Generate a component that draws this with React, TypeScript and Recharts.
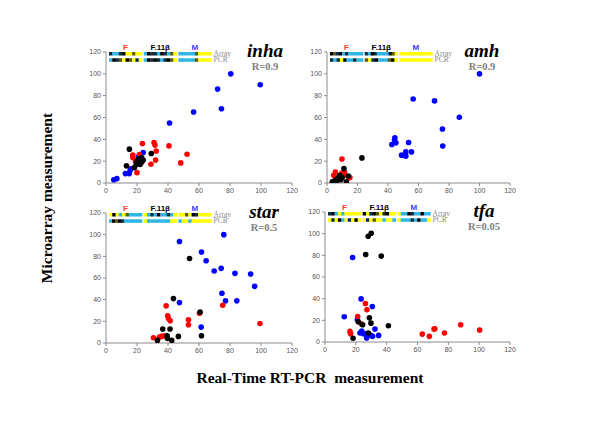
import React from 'react';
import { ScatterChart, Scatter, XAxis, YAxis } from 'recharts';

// ---------- data ----------
type P = { x: number; y: number };
const pts = (a: number[][]): P[] => a.map(([x, y]) => ({ x, y }));

const geneNames = ['inha', 'amh', 'star', 'tfa'];
const rValues = ['R=0.9', 'R=0.9', 'R=0.5', 'R=0.05'];
const groupLabels = ['F', 'F.11\u03b2', 'M'];
const rowLabels = ['Array', 'PCR'];
const axisTicks = [0, 20, 40, 60, 80, 100, 120];

const inhaBlue = pts([[5, 3], [7, 4], [12.5, 8.6], [15, 8.6], [15.6, 11.7], [16, 13], [21, 24], [24, 28], [41, 55], [56.5, 65], [72, 86], [80.5, 100], [74.5, 68], [99.5, 90]]);
const inhaRed = pts([[23.5, 36.2], [31, 37.1], [31.6, 34.7], [40.6, 34], [17.3, 25.5], [17.3, 23.3], [21.6, 26], [32.4, 29.2], [32, 21], [29, 17.2], [20, 9.5], [52.3, 26.4], [48.2, 18.4], [22, 21], [19, 20]]);
const inhaBlack = pts([[15.1, 31], [13.2, 15.7], [18.4, 14.1], [20, 20], [21, 18], [22, 22], [23, 19], [24, 21], [21, 22], [19.5, 17], [23, 23], [22, 17], [29.2, 27]]);

const amhBlue = pts([[100, 100], [56.5, 77], [70.5, 75.2], [86.8, 60.2], [75.7, 49.4], [75.9, 33.8], [42.5, 35.3], [44.5, 41.4], [44.3, 39.3], [45.2, 36.8], [53.5, 37.1], [48.9, 25.5], [51.7, 28.5], [51.7, 24.6], [55.4, 28.5]]);
const amhBlack = pts([[22.9, 23], [11.1, 13.2], [14, 6.4], [12.7, 1], [3.5, 1], [5, 2], [6, 3], [7, 4], [8, 6], [8.5, 7], [10, 5], [6, 1], [9, 3]]);
const amhRed = pts([[9.8, 22], [5.5, 10.1], [4.4, 7], [9.8, 9.2], [10.9, 7], [14.2, 4.9], [15, 5], [7.6, 4], [6.5, 2.5], [11.5, 10]]);

const starBlue = pts([[76, 100], [47.4, 93.7], [61.6, 83.9], [64.6, 75.9], [69.8, 66.4], [74.3, 68.9], [83.2, 64.3], [93.3, 63.7], [95.9, 52.3], [74.8, 45.9], [77.1, 38.9], [84.4, 38.9], [47.4, 37.3], [61.4, 14.7]]);
const starBlack = pts([[53.9, 78], [43.5, 41], [60.7, 28.5], [36.6, 12.9], [41.3, 12.9], [39.4, 6.7], [46.7, 6.1], [61.6, 6.7], [33.2, 2.4], [42.4, 2.4], [39.6, 4.3]]);
const starRed = pts([[38.8, 34.3], [39.8, 25.1], [40.3, 22.6], [41.4, 20.5], [53.2, 21.4], [53.2, 16.8], [60.3, 27.5], [75.3, 34.9], [99.3, 18], [30.6, 4.9], [35.9, 6.1], [34.5, 5.5], [37.5, 6.7]]);

const tfaBlack = pts([[28, 97.6], [30, 100.4], [26.4, 80.8], [36.5, 79.3], [28.8, 22.3], [29.8, 17.4], [21.6, 18.7], [24.4, 15.9], [41.1, 15], [18.2, 3.4], [28.1, 8.3]]);
const tfaBlue = pts([[17.9, 78], [23.4, 39.8], [30.7, 32.8], [12.5, 23.3], [21, 20.5], [32.4, 11.9], [22.7, 8.3], [23.8, 10], [24.9, 7.7], [27, 7.7], [27, 3.7], [29.8, 6.1], [30.9, 5.2], [34.8, 6.1]]);
const tfaRed = pts([[26.2, 35.5], [27.2, 29.7], [21.2, 23.6], [16.2, 9.8], [16.6, 7.7], [23.4, 16.8], [63.1, 7.3], [67.7, 5.2], [70.7, 11.9], [71.2, 12.3], [77.5, 8.3], [88, 15.9], [100.3, 11]]);

// heat-map strips: one letter per cell (c cyan, y yellow, k black, n navy, d olive)
const inhaStrips = [['nccnkyydyy', 'cknnckncdy', 'cccccdyyyy'], ['ckndykdyny', 'cknkncnkdy', 'cccccdyyyy']];
const amhStrips = [['kdnkcnccccc', 'nckncccckdy', 'yyyyyyyyyy'], ['ncnykccncc', 'dynkcccdky', 'yyyyyyyyyy']];
const starStrips = [['ykycydcccc', 'ycnckccncy', 'yydyknyyyy'], ['ckdkncccccc', 'ycccccccyy', 'cyycyyyyyy']];
const tfaStrips = [['nkcycyyyyy', 'kynkdynkyy', 'ycckncckcc'], ['ynykcynyky', 'ynydyycyyc', 'ycccnckccy']];

// ---------- styling / layout ----------
const SANS = "Arial, 'Liberation Sans', sans-serif";
const SERIF = "'Times New Roman', 'Liberation Serif', serif";
const CELL: Record<string, string> = { c: '#2fb6e6', y: '#ffff00', k: '#000000', n: '#0e2c40', d: '#5c5a12' };
const BLUE = '#0000ff';
const RED = '#ff0000';
const BLACK = '#000000';

type Panel = {
  left: number; top: number;
  margin: { top: number; right: number; bottom: number; left: number };
  yWidth: number;
  series: { data: P[]; color: string }[];
  strips: string[][];
  title: string; r: string;
  titleX: number;
};

const panels: Panel[] = [
  { left: 60, top: 40, margin: { top: 12, right: 8, bottom: 7, left: 16 }, yWidth: 30,
    series: [{ data: inhaBlue, color: BLUE }, { data: inhaRed, color: RED }, { data: inhaBlack, color: BLACK }],
    strips: inhaStrips, title: geneNames[0], r: rValues[0], titleX: 265 },
  { left: 281, top: 40, margin: { top: 12, right: 11, bottom: 7, left: 16 }, yWidth: 30,
    series: [{ data: amhBlue, color: BLUE }, { data: amhRed, color: RED }, { data: amhBlack, color: BLACK }],
    strips: amhStrips, title: geneNames[1], r: rValues[1], titleX: 482 },
  { left: 60, top: 200, margin: { top: 13, right: 8, bottom: 7, left: 16 }, yWidth: 30,
    series: [{ data: starBlue, color: BLUE }, { data: starRed, color: RED }, { data: starBlack, color: BLACK }],
    strips: starStrips, title: geneNames[2], r: rValues[2], titleX: 264 },
  { left: 280, top: 200, margin: { top: 12, right: 10, bottom: 8, left: 15 }, yWidth: 30,
    series: [{ data: tfaBlue, color: BLUE }, { data: tfaRed, color: RED }, { data: tfaBlack, color: BLACK }],
    strips: tfaStrips, title: geneNames[3], r: rValues[3], titleX: 484 },
];

const W = 240;
const H = 170;

const Dot = (color: string) => (props: any) => (
  <circle cx={props.cx} cy={props.cy} r={2.8} fill={color} />
);

function Overlay() {
  const items: React.ReactNode[] = [];
  panels.forEach((p, pi) => {
    const plotLeft = p.left + p.margin.left + p.yWidth;
    const plotTop = p.top + p.margin.top;
    const x0 = plotLeft + 3;
    const gw = 33;
    const gap = 1.7;
    p.strips.forEach((row, ri) => {
      const y = plotTop + ri * 6.3;
      row.forEach((g, gi) => {
        const gx = x0 + gi * (gw + gap);
        const cw = gw / g.length;
        g.split('').forEach((ch, ci) => {
          items.push(
            <rect key={`s${pi}-${ri}-${gi}-${ci}`} x={gx + ci * cw} y={y} width={cw + 0.3} height={3.5} fill={CELL[ch]} />
          );
        });
      });
      items.push(
        <text key={`rl${pi}-${ri}`} x={x0 + 3 * (gw + gap) + 0.5} y={y + 3.8} fontSize={7.5} fill="#8a8a8a" fontFamily={SERIF}>
          {rowLabels[ri]}
        </text>
      );
    });
    const labelColors = ['#ff3b1f', '#000000', '#3a3aff'];
    groupLabels.forEach((lab, gi) => {
      items.push(
        <text key={`gl${pi}-${gi}`} x={x0 + gi * (gw + gap) + gw / 2} y={plotTop - 2.5} fontSize={8} fontWeight="bold"
          fill={labelColors[gi]} fontFamily={SANS} textAnchor="middle">
          {lab}
        </text>
      );
    });
    items.push(
      <text key={`t${pi}`} x={p.titleX} y={plotTop + 5} fontSize={19} fontWeight="bold" fontStyle="italic"
        fontFamily={SERIF} textAnchor="middle" fill="#000">
        {p.title}
      </text>
    );
    items.push(
      <text key={`r${pi}`} x={p.titleX} y={plotTop + 18} fontSize={10.5} fontWeight="bold"
        fontFamily={SERIF} textAnchor="middle" fill="#808080">
        {p.r}
      </text>
    );
  });
  return (
    <svg width={600} height={424} style={{ position: 'absolute', left: 0, top: 0, pointerEvents: 'none' }}>
      {items}
      <text x={46} y={198} transform="rotate(-90 46 198)" fontSize={15.5} fontWeight="bold" fontFamily={SERIF}
        textAnchor="middle" dominantBaseline="central" fill="#000">
        Microarray measurement
      </text>
      <text x={310} y={383} fontSize={15.5} fontWeight="bold" fontFamily={SERIF} textAnchor="middle" fill="#000"
        style={{ whiteSpace: 'pre' }}>
        {'Real-Time RT-PCR  measurement'}
      </text>
    </svg>
  );
}

export default function App() {
  const tick = { fontSize: 7, fill: '#555', fontFamily: SANS };
  return (
    <div style={{ position: 'absolute', left: 0, top: 0, width: 600, height: 424, background: '#fff', overflow: 'hidden' }}>
      {panels.map((p, i) => (
        <div key={i} style={{ position: 'absolute', left: p.left, top: p.top, width: W, height: H }}>
          <ScatterChart width={W} height={H} margin={p.margin}>
            <XAxis type="number" dataKey="x" domain={[0, 120]} ticks={axisTicks} tick={tick} tickSize={3}
              stroke="#8c8c8c" height={20} interval={0} allowDataOverflow />
            <YAxis type="number" dataKey="y" domain={[0, 120]} ticks={axisTicks} tick={tick} tickSize={3}
              stroke="#8c8c8c" width={p.yWidth} interval={0} allowDataOverflow />
            {p.series.map((s, si) => (
              <Scatter key={si} data={s.data} fill={s.color} shape={Dot(s.color)} isAnimationActive={false} />
            ))}
          </ScatterChart>
        </div>
      ))}
      <Overlay />
    </div>
  );
}
